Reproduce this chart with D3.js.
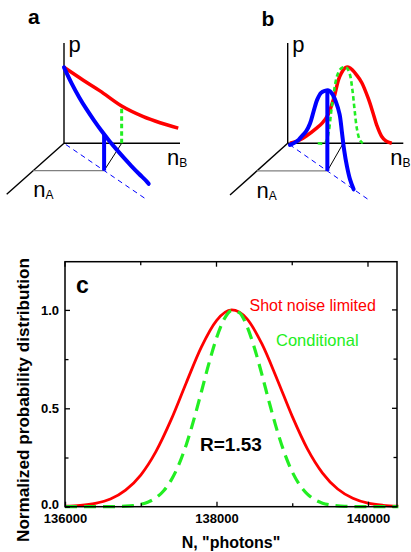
<!DOCTYPE html>
<html>
<head>
<meta charset="utf-8">
<script src="https://cdn.jsdelivr.net/npm/d3@7"></script>
<style>
  html, body { margin: 0; padding: 0; background: #fff; }
  svg { display: block; font-family: "Liberation Sans", Arial, sans-serif; }
</style>
</head>
<body>
<svg id="fig" width="411" height="552"></svg>
<script>
// ---------- Panel c: normalized photon-number distributions ----------
const photonN = [136000, 136200, 136400, 136600, 136800, 137000, 137200, 137400, 137600, 137800,
                 138000, 138200, 138400, 138600, 138800, 139000, 139200, 139400, 139600, 139800,
                 140000, 140200, 140400];
const shotNoise = [0.0023, 0.0065, 0.017, 0.039, 0.084, 0.161, 0.280, 0.441, 0.629, 0.811,
                   0.946, 1.000, 0.956, 0.827, 0.648, 0.459, 0.294, 0.171, 0.090, 0.043,
                   0.018, 0.007, 0.0025];
const condN = [136000, 136300, 136600, 136700, 136800, 136900, 137000, 137100, 137200, 137300,
               137400, 137500, 137600, 137700, 137800, 137900, 138000, 138100, 138200, 138300,
               138400, 138500, 138600, 138700, 138800, 138900, 139000, 139100, 139200, 139300,
               139400, 139500, 139600, 139700, 139800, 140000, 140400];
const conditional = [0, 0, 0.0004, 0.0011, 0.0026, 0.0057, 0.012, 0.024, 0.045, 0.080,
                     0.134, 0.211, 0.314, 0.441, 0.583, 0.728, 0.857, 0.952, 0.997, 0.986,
                     0.919, 0.808, 0.671, 0.525, 0.388, 0.270, 0.177, 0.110, 0.064, 0.035,
                     0.018, 0.009, 0.004, 0.0018, 0.0008, 0, 0];
const xTicks = [136000, 137000, 138000, 139000, 140000];
const xTickLabels = ["136000", "", "138000", "", "140000"];
const yTicks = [0, 0.25, 0.5, 0.75, 1.0];
const yTickLabels = ["0.0", "", "0.5", "", "1.0"];

// ---------- Panels a, b: 3D sketches (nA, nB, p) ----------
// panel a: exponential (thermal-like) distributions
const redA_nB = [0, 1.66, 3.1, 4.97, 6.84, 8.28, 9.85];
const redA_p  = [1.0, 0.83, 0.69, 0.49, 0.35, 0.27, 0.20];
const blueA_nA = [0, 1, 2, 3, 4, 5, 6, 7, 8, 9, 10, 11, 11.3];
const blueA_p  = [1.0, 0.86, 0.745, 0.65, 0.57, 0.50, 0.44, 0.39, 0.345, 0.305, 0.27, 0.24, 0.225];
const slicePointA = {nA: 5.35, nB: 6.1, pBlue: 0.48, nBcond: 4.97, pCond: 0.49};

// panel b: bell-shaped distributions
const redB_nB = [0.2, 1.0, 1.64, 2.5, 3.0, 3.5, 4.0, 4.5, 5.04, 5.4, 6.0, 6.4, 6.97, 7.4, 7.7, 8.13, 8.5, 9.0];
const redB_p  = [0, 0.04, 0.1, 0.2, 0.27, 0.38, 0.6, 0.88, 1.0, 0.99, 0.89, 0.8, 0.59, 0.39, 0.24, 0.09, 0.03, 0];
const greenB_nB = [2.6, 3.2, 3.35, 3.55, 3.75, 4.0, 4.3, 4.65, 5.05, 5.35, 5.6, 5.78, 6.0, 6.25, 6.5];
const greenB_p  = [0, 0, 0.03, 0.15, 0.4, 0.68, 0.9, 0.99, 1.0, 0.92, 0.7, 0.45, 0.18, 0.04, 0];
const blueB_nA = [0.3, 1.0, 1.5, 2.0, 2.5, 3.0, 3.5, 4.0, 4.5, 5.0, 5.5, 6.0, 6.5, 7.0, 7.3, 7.6, 8.0, 8.4, 8.9];
const blueB_p  = [0, 0.08, 0.15, 0.24, 0.33, 0.46, 0.66, 0.85, 0.97, 1.03, 1.07, 1.06, 0.99, 0.86, 0.66, 0.44, 0.24, 0.1, 0];
const slicePointB = {nA: 5.35, nB: 6.1, pBlue: 1.07, nBcond: 4.8};

const diagRatio = 1.14;      // nB / nA along the correlation diagonal

const svg = d3.select("#fig");
const RED = "#ff0000", BLUE = "#0000ff", GREEN = "#22ee22";

// ---------- oblique 3D projection helper ----------
function makeProjection(ox, oy, nBEnd, nAEndX, nAEndY) {
  const sB = d3.scaleLinear().domain([0, 10]).range([0, nBEnd - ox]);
  const sAx = d3.scaleLinear().domain([0, 10]).range([0, nAEndX - ox]);
  const sAy = d3.scaleLinear().domain([0, 10]).range([0, nAEndY - oy]);
  const sP = d3.scaleLinear().domain([0, 1]).range([0, -76]);
  return (nA, nB, p) => [ox + sB(nB) + sAx(nA), oy + sAy(nA) + sP(p)];
}

function drawSketch(g, proj, opt) {
  const line = d3.line().curve(d3.curveCatmullRom.alpha(0.5));
  const seg = (pts, stroke, width, dash) => g.append("path")
      .attr("d", d3.line()(pts)).attr("fill", "none")
      .attr("stroke", stroke).attr("stroke-width", width)
      .attr("stroke-dasharray", dash || null);

  // axes
  seg([proj(0, 0, 1.32), proj(0, 0, 0)], "#000", 1.4);
  seg([proj(0, 0, 0), proj(0, 10, 0)], "#000", 1.4);
  seg([proj(0, 0, 0), proj(10, 0, 0)], "#000", 1.4);

  const s = opt.slice;
  // guide lines in the nA-nB plane
  seg([proj(s.nA, 0, 0), proj(s.nA, s.nB, 0)], "#808080", 1.3);
  seg([proj(s.nA, s.nB, 0), proj(0, s.nBcond, 0)], "#000", 1);
  seg([proj(0.25, 0.25 * diagRatio, 0), proj(11.05, 11.05 * diagRatio, 0)], BLUE, 1, "5,4");

  // shot-noise (nB marginal) curve
  g.append("path")
    .attr("d", line(opt.redNB.map((b, i) => proj(0, b, opt.redP[i]))))
    .attr("fill", "none").attr("stroke", RED).attr("stroke-width", 3.5);

  // conditional distribution
  if (opt.greenNB) {
    g.append("path")
      .attr("d", line(opt.greenNB.map((b, i) => proj(0, b, opt.greenP[i]))))
      .attr("fill", "none").attr("stroke", GREEN).attr("stroke-width", 2.6)
      .attr("stroke-dasharray", "4.5,3");
  } else {
    seg([proj(0, s.nBcond, 0), proj(0, s.nBcond, s.pCond)], GREEN, 3, "4.5,3");
  }

  // correlated slice along the diagonal
  seg([proj(s.nA, s.nB, 0), proj(s.nA, s.nB, s.pBlue)], BLUE, 4);
  g.append("path")
    .attr("d", line(opt.blueNA.map((a, i) => proj(a, a * diagRatio, opt.blueP[i]))))
    .attr("fill", "none").attr("stroke", BLUE).attr("stroke-width", 4)
    .attr("stroke-linecap", "round");

  // labels
  const o = proj(0, 0, 0);
  g.append("text").attr("x", opt.letterX).attr("y", opt.letterY)
    .attr("font-size", 21).attr("font-weight", "bold").text(opt.letter);
  g.append("text").attr("x", o[0] + 4.5).attr("y", 52)
    .attr("font-size", 22).text("p");
  const b = proj(0, 10, 0);
  const tB = g.append("text").attr("x", b[0] - 13).attr("y", b[1] + 22).attr("font-size", 22);
  tB.append("tspan").text("n");
  tB.append("tspan").attr("font-size", 12).attr("dy", 2).text("B");
  const a = proj(10, 0, 0);
  const tA = g.append("text").attr("x", a[0] + 26.5).attr("y", a[1] + 2.5).attr("font-size", 22);
  tA.append("tspan").text("n");
  tA.append("tspan").attr("font-size", 12).attr("dy", 2).text("A");
}

const projA = makeProjection(64, 143.3, 180, 6.7, 194.3);
drawSketch(svg.append("g"), projA, {
  letter: "a", letterX: 28, letterY: 23.5,
  redNB: redA_nB, redP: redA_p, blueNA: blueA_nA, blueP: blueA_p, slice: slicePointA
});
const projB = makeProjection(287.7, 143.3, 403.3, 230, 195);
drawSketch(svg.append("g"), projB, {
  letter: "b", letterX: 261.5, letterY: 26,
  redNB: redB_nB, redP: redB_p, greenNB: greenB_nB, greenP: greenB_p,
  blueNA: blueB_nA, blueP: blueB_p, slice: slicePointB
});

// ---------- panel c ----------
const plotLeft = 65, plotRight = 397, plotTop = 261.7, plotBottom = 506.7;
const x = d3.scaleLinear().domain([136000, 140383]).range([plotLeft, plotRight]);
const y = d3.scaleLinear().domain([0, 1.245]).range([plotBottom, plotTop]);
const gc = svg.append("g");

const curve = d3.line().x(d => x(d[0])).y(d => y(d[1])).curve(d3.curveMonotoneX);
gc.append("path")
  .attr("d", curve(photonN.map((n, i) => [n, shotNoise[i]])))
  .attr("fill", "none").attr("stroke", RED).attr("stroke-width", 2.8);
gc.append("path")
  .attr("d", curve(condN.map((n, i) => [n, conditional[i]])))
  .attr("fill", "none").attr("stroke", GREEN).attr("stroke-width", 3.2)
  .attr("stroke-dasharray", "12,7");

// frame
gc.append("rect").attr("x", plotLeft).attr("y", plotTop)
  .attr("width", plotRight - plotLeft).attr("height", plotBottom - plotTop)
  .attr("fill", "none").attr("stroke", "#000").attr("stroke-width", 1.5);

// inward ticks on all four sides
const tickLen = (lab) => lab ? 5 : 3.5;
const axB = d3.axisBottom(x).tickValues(xTicks).tickFormat((d, i) => xTickLabels[i])
  .tickSizeInner(0).tickSizeOuter(0).tickPadding(7);
const gx = gc.append("g").attr("transform", `translate(0,${plotBottom})`).call(axB);
gx.select(".domain").remove();
gx.selectAll("text").attr("font-size", 13).attr("font-weight", "bold")
  .attr("font-family", "Liberation Sans, Arial, sans-serif").attr("fill", "#000");
gx.selectAll(".tick").append("line").attr("y1", 0)
  .attr("y2", (d, i) => -tickLen(xTickLabels[i])).attr("stroke", "#000").attr("stroke-width", 1.3);
const gxt = gc.append("g").attr("transform", `translate(0,${plotTop})`);
gxt.selectAll("line").data(xTicks).join("line")
  .attr("x1", d => x(d)).attr("x2", d => x(d)).attr("y1", 0)
  .attr("y2", (d, i) => tickLen(xTickLabels[i])).attr("stroke", "#000").attr("stroke-width", 1.3);

const axL = d3.axisLeft(y).tickValues(yTicks).tickFormat((d, i) => yTickLabels[i])
  .tickSizeInner(0).tickSizeOuter(0).tickPadding(6);
const gy = gc.append("g").attr("transform", `translate(${plotLeft},0)`).call(axL);
gy.select(".domain").remove();
gy.selectAll("text").attr("font-size", 13).attr("font-weight", "bold")
  .attr("font-family", "Liberation Sans, Arial, sans-serif").attr("fill", "#000")
  .attr("dy", (d, i) => i === 0 ? "0.15em" : "0.32em");
gy.selectAll(".tick").append("line").attr("x1", 0)
  .attr("x2", (d, i) => tickLen(yTickLabels[i])).attr("stroke", "#000").attr("stroke-width", 1.3);
const gyr = gc.append("g").attr("transform", `translate(${plotRight},0)`);
gyr.selectAll("line").data(yTicks).join("line")
  .attr("y1", d => y(d)).attr("y2", d => y(d)).attr("x1", 0)
  .attr("x2", (d, i) => -tickLen(yTickLabels[i])).attr("stroke", "#000").attr("stroke-width", 1.3);

// titles and annotations
gc.append("text").attr("x", (plotLeft + plotRight) / 2).attr("y", 548)
  .attr("text-anchor", "middle").attr("font-size", 16).attr("font-weight", "bold")
  .text('N, "photons"');
gc.append("text").attr("transform", "translate(29,400) rotate(-90)")
  .attr("text-anchor", "middle").attr("font-size", 16).attr("font-weight", "bold")
  .attr("textLength", 284).attr("lengthAdjust", "spacingAndGlyphs")
  .text("Normalized probability distribution");
gc.append("text").attr("x", 76).attr("y", 293).attr("font-size", 23).attr("font-weight", "bold").text("c");
gc.append("text").attr("x", 249.5).attr("y", 311).attr("font-size", 16).attr("fill", RED).text("Shot noise limited");
gc.append("text").attr("x", 276).attr("y", 346).attr("font-size", 16.5).attr("fill", GREEN).text("Conditional");
gc.append("text").attr("x", 200).attr("y", 450.5).attr("font-size", 19).attr("font-weight", "bold").text("R=1.53");
</script>
</body>
</html>
